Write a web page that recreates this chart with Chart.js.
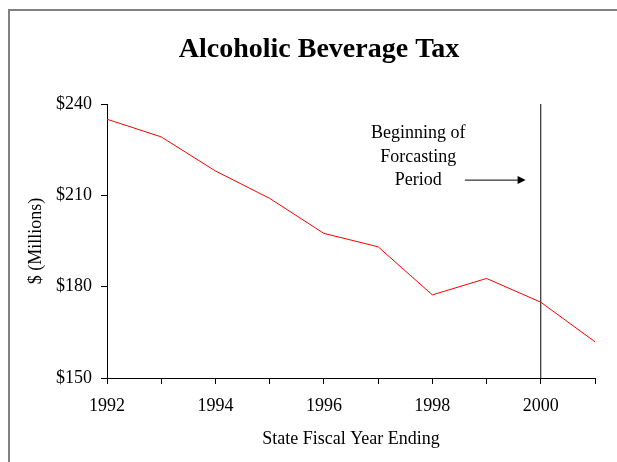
<!DOCTYPE html>
<html>
<head>
<meta charset="utf-8">
<script src="https://cdn.jsdelivr.net/npm/chart.js@4"></script>
<style>
  body { margin: 0; background: #fff; }
  #wrap { width: 617px; height: 462px; }
</style>
</head>
<body>
<div id="wrap"><canvas id="chart" width="617" height="462"></canvas></div>
<script>
// data
const years = [1992, 1993, 1994, 1995, 1996, 1997, 1998, 1999, 2000, 2001];
const revenue = [235.0, 229.2, 218.0, 209.0, 197.5, 193.1, 177.3, 182.7, 174.9, 161.9];
const forecastStart = 2000;
const yTicks = [150, 180, 210, 240];
const noteLines = ['Beginning of', 'Forcasting', 'Period'];

const serif = '"Liberation Serif", "Times New Roman", serif';

// frame, title and the forecast note
const extras = {
  id: 'extras',
  beforeDraw(chart) {
    const ctx = chart.ctx;
    ctx.save();
    ctx.fillStyle = '#fff';
    ctx.fillRect(0, 0, chart.width, chart.height);
    ctx.strokeStyle = '#808080';
    ctx.lineWidth = 2;
    ctx.strokeRect(9, 10, chart.width + 20, chart.height + 20);
    ctx.restore();
  },
  afterDraw(chart) {
    const ctx = chart.ctx;
    const x = chart.scales.x, y = chart.scales.y;
    ctx.save();
    ctx.fillStyle = '#000';
    ctx.font = 'bold 28px ' + serif;
    ctx.textAlign = 'center';
    ctx.textBaseline = 'alphabetic';
    ctx.fillText('Alcoholic Beverage Tax', 319, 57);

    ctx.font = '18px ' + serif;
    ctx.textBaseline = 'middle';
    const tx = x.getPixelForValue(1997.74);
    const rows = [230.5, 222.6, 215.0];
    noteLines.forEach((t, i) => ctx.fillText(t, tx, y.getPixelForValue(rows[i])));

    // arrow
    const ay = y.getPixelForValue(215.0);
    const x0 = x.getPixelForValue(1998.6);
    const x1 = x.getPixelForValue(1999.72);
    ctx.strokeStyle = '#000';
    ctx.lineWidth = 1;
    ctx.beginPath();
    ctx.moveTo(x0, ay);
    ctx.lineTo(x1 - 6, ay);
    ctx.stroke();
    ctx.beginPath();
    ctx.moveTo(x1, ay);
    ctx.lineTo(x1 - 8, ay - 4);
    ctx.lineTo(x1 - 8, ay + 4);
    ctx.closePath();
    ctx.fill();
    ctx.restore();
  }
};

new Chart(document.getElementById('chart'), {
  type: 'line',
  data: {
    datasets: [
      {
        data: years.map((yr, i) => ({ x: yr, y: revenue[i] })),
        borderColor: '#ff0000',
        borderWidth: 1,
        pointRadius: 0,
        tension: 0
      },
      {
        data: [{ x: forecastStart, y: yTicks[0] }, { x: forecastStart, y: yTicks[yTicks.length - 1] }],
        borderColor: '#000',
        borderWidth: 1,
        pointRadius: 0
      }
    ]
  },
  options: {
    responsive: false,
    animation: false,
    layout: { padding: { left: 20, right: 22, top: 104, bottom: 0 } },
    plugins: {
      legend: { display: false },
      title: { display: false },
      tooltip: { enabled: false }
    },
    scales: {
      x: {
        type: 'linear',
        min: years[0],
        max: years[years.length - 1],
        afterFit: (s) => { s.height = 84; },
        border: { color: '#000', width: 1 },
        grid: { drawOnChartArea: false, drawTicks: true, tickLength: 6, tickColor: '#000' },
        ticks: {
          stepSize: 1,
          autoSkip: false,
          maxRotation: 0,
          padding: 11,
          color: '#000',
          font: { family: serif, size: 18 },
          callback: (v) => (v % 2 === 0 ? String(v) : '')
        },
        title: {
          display: true,
          text: 'State Fiscal Year Ending',
          color: '#000',
          font: { family: serif, size: 18 },
          padding: { top: 0, bottom: 12 }
        }
      },
      y: {
        min: yTicks[0],
        max: yTicks[yTicks.length - 1],
        afterFit: (s) => { s.width = 87; },
        afterBuildTicks: (s) => { s.ticks = yTicks.map(v => ({ value: v })); },
        border: { color: '#000', width: 1 },
        grid: { drawOnChartArea: false, drawTicks: true, tickLength: 6, tickColor: '#000' },
        ticks: {
          padding: 9,
          color: '#000',
          font: { family: serif, size: 18 },
          callback: (v) => '$' + v
        },
        title: {
          display: true,
          text: '$ (Millions)',
          color: '#000',
          font: { family: serif, size: 18 },
          padding: { top: 5, bottom: 0 }
        }
      }
    }
  },
  plugins: [extras]
});
</script>
</body>
</html>
